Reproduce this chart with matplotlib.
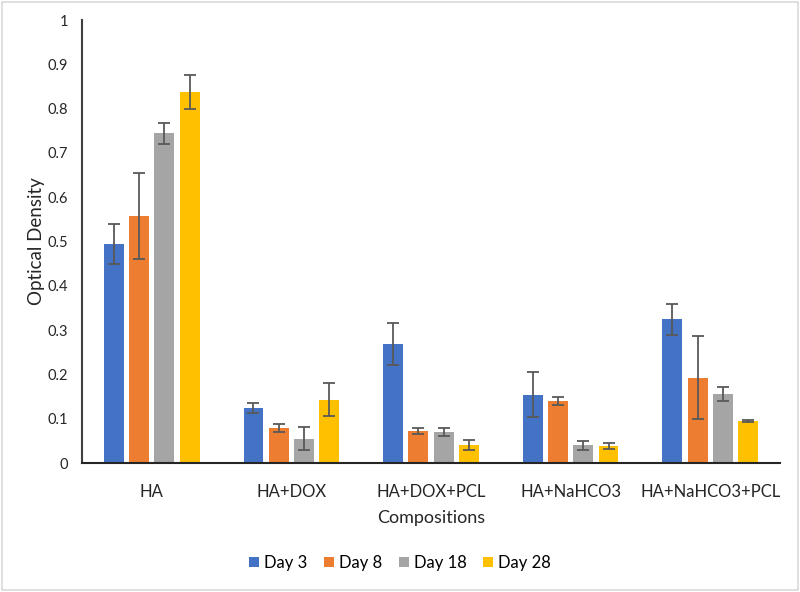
"""Optical density of the compositions over culture time."""

import matplotlib

matplotlib.use("Agg")
import matplotlib.pyplot as plt  # noqa: E402
import numpy as np  # noqa: E402
from matplotlib.patches import Rectangle  # noqa: E402

COMPOSITIONS = ["HA", "HA+DOX", "HA+DOX+PCL", "HA+NaHCO3", "HA+NaHCO3+PCL"]
DAYS = ["Day 3", "Day 8", "Day 18", "Day 28"]
DAY3 = [0.495, 0.125, 0.269, 0.154, 0.324]
DAY8 = [0.557, 0.079, 0.073, 0.139, 0.193]
DAY18 = [0.744, 0.055, 0.071, 0.040, 0.156]
DAY28 = [0.838, 0.143, 0.041, 0.039, 0.095]
ERR3 = [0.045, 0.011, 0.047, 0.051, 0.034]
ERR8 = [0.097, 0.009, 0.0065, 0.009, 0.094]
ERR18 = [0.024, 0.026, 0.009, 0.010, 0.016]
ERR28 = [0.038, 0.037, 0.012, 0.007, 0.003]
YTICKS = ["0", "0.1", "0.2", "0.3", "0.4", "0.5", "0.6", "0.7", "0.8", "0.9", "1"]
COLORS = ["#4472C4", "#ED7D31", "#A5A5A5", "#FFC000"]

plt.rcParams["font.family"] = ["Lato", "DejaVu Sans"]

figure = plt.figure(figsize=(8.0, 5.92), dpi=100)
axis = figure.add_axes([0.1025, 0.2179, 0.8725, 0.7483])

x = np.arange(len(COMPOSITIONS))
step = 0.181
width = 0.143
series = zip(DAYS, (DAY3, DAY8, DAY18, DAY28), (ERR3, ERR8, ERR18, ERR28), COLORS)
for index, (label, values, errors, color) in enumerate(series):
    axis.bar(
        x + (index - 1.5) * step,
        values,
        width=width,
        color=color,
        label=label,
        yerr=errors,
        error_kw={"ecolor": "#595959", "elinewidth": 1.3, "capsize": 4, "capthick": 1.3},
    )

axis.set_xlim(-0.5, len(COMPOSITIONS) - 0.5)
axis.set_ylim(0, 1)
axis.set_yticks(np.linspace(0, 1, len(YTICKS)))
axis.set_yticklabels(YTICKS)
axis.set_xticks(x)
axis.set_xticklabels(COMPOSITIONS, fontsize=12)
axis.tick_params(axis="x", length=0, pad=15, colors="#262626")
axis.tick_params(axis="y", length=0, pad=10, labelsize=10.5, colors="#262626")
for side in ("top", "right"):
    axis.spines[side].set_visible(False)
axis.spines["left"].set_color("#404040")
axis.spines["left"].set_linewidth(1.5)
axis.spines["bottom"].set_color("#262626")
axis.spines["bottom"].set_linewidth(1.5)
axis.set_xlabel("Compositions", fontsize=13, color="#262626", labelpad=7)
axis.set_ylabel("Optical Density", fontsize=13.5, color="#262626")
axis.yaxis.set_label_coords(-0.053, 0.5)

axis.legend(
    loc="center",
    bbox_to_anchor=(0.5, 0.049),
    bbox_transform=figure.transFigure,
    ncol=4,
    frameon=False,
    fontsize=12,
    handlelength=0.6,
    handleheight=0.6,
    handletextpad=0.3,
    columnspacing=1.0,
)

figure.patches.append(
    Rectangle(
        (0.003, 0.003), 0.994, 0.994,
        transform=figure.transFigure, fill=False, edgecolor="#D9D9D9", linewidth=1.2,
    )
)

figure.savefig("out.png", dpi=100)
